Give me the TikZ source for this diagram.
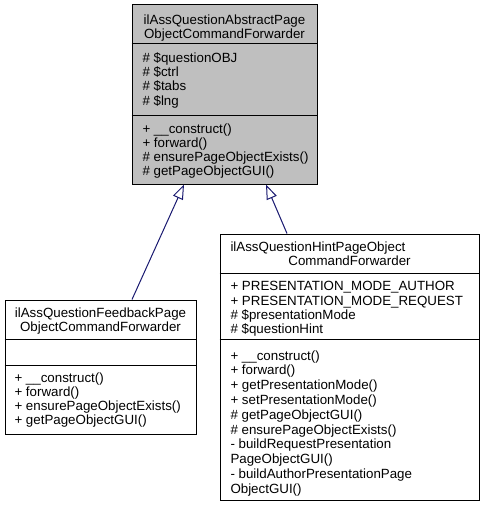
\documentclass[tikz,border=0pt]{standalone}
\usepackage{fontspec}
\setmainfont{Liberation Sans}
\usetikzlibrary{arrows.meta}

\tikzset{every picture/.style={line width=0.75pt}}
\tikzset{
	classbox/.style={draw=black, rectangle, inner sep=0pt},
	classtext/.style={inner sep=0pt, font=\fontsize{10}{10.7}\selectfont},
	memberlist/.style={classtext, anchor=north west, align=left},
	classtitle/.style={classtext, anchor=north, align=center},
	inherit/.style={draw={rgb, 255:red, 25; green, 25; blue, 112 }, -{Triangle[open, length=11pt, width=8pt]}}
}

\begin{document}
\begin{tikzpicture}[x=0.75pt,y=0.75pt,yscale=-1,xscale=1]
	\useasboundingbox (0,0) rectangle (485,507);

	%Class boxes
	\node [classbox, fill={rgb, 255:red, 191; green, 191; blue, 191 }, minimum width=138.75pt, minimum height=135pt] (abstract) at (224.5,94) {};
	\node [classbox, fill=white, minimum width=143.25pt, minimum height=100.5pt] (feedback) at (100.5,367) {};
	\node [classbox, fill=white, minimum width=194.25pt, minimum height=199.5pt] (hint) at (349.5,367) {};

	%Section lines
	\draw (abstract.west |- 0,43) -- (abstract.east |- 0,43) ;
	\draw (abstract.west |- 0,115) -- (abstract.east |- 0,115) ;
	\draw (feedback.west |- 0,339) -- (feedback.east |- 0,339) ;
	\draw (feedback.west |- 0,365) -- (feedback.east |- 0,365) ;
	\draw (hint.west |- 0,273) -- (hint.east |- 0,273) ;
	\draw (hint.west |- 0,339) -- (hint.east |- 0,339) ;

	%Inheritance
	\draw [inherit] (feedback.north -| 132,0) -- (abstract.south -| 184,0) ;
	\draw [inherit] (hint.north -| 287,0) -- (abstract.south -| 266,0) ;

	% Text Node
	\node [classtitle] (abstract-name) at (224.5,14) {ilAssQuestionAbstractPage\\ObjectCommandForwarder};
	% Text Node
	\node [memberlist] (abstract-attr) at (142,52) {\# \$questionOBJ\\\# \$ctrl\\\# \$tabs\\\# \$lng};
	% Text Node
	\node [memberlist] (abstract-ops) at (142,123) {+ \_\_construct()\\+ forward()\\\# ensurePageObjectExists()\\\# getPageObjectGUI()};

	% Text Node
	\node [classtitle] (feedback-name) at (100.5,307) {ilAssQuestionFeedbackPage\\ObjectCommandForwarder};
	% Text Node
	\node [memberlist] (feedback-ops) at (14,372) {+ \_\_construct()\\+ forward()\\+ ensurePageObjectExists()\\+ getPageObjectGUI()};

	% Text Node
	\node [classtext, anchor=north west] (hint-name) at (230,241) {ilAssQuestionHintPageObject};
	% Text Node
	\node [classtext, anchor=north] (hint-name2) at (349.5,255) {CommandForwarder};
	% Text Node
	\node [memberlist] (hint-attr) at (230,281) {+ PRESENTATION\_MODE\_AUTHOR\\+ PRESENTATION\_MODE\_REQUEST\\\# \$presentationMode\\\# \$questionHint};
	% Text Node
	\node [memberlist, font=\fontsize{10}{11.1}\selectfont] (hint-ops) at (230,350) {+ \_\_construct()\\+ forward()\\+ getPresentationMode()\\+ setPresentationMode()\\\# getPageObjectGUI()\\\# ensurePageObjectExists()\\- buildRequestPresentation\\PageObjectGUI()\\- buildAuthorPresentationPage\\ObjectGUI()};

\end{tikzpicture}
\end{document}
